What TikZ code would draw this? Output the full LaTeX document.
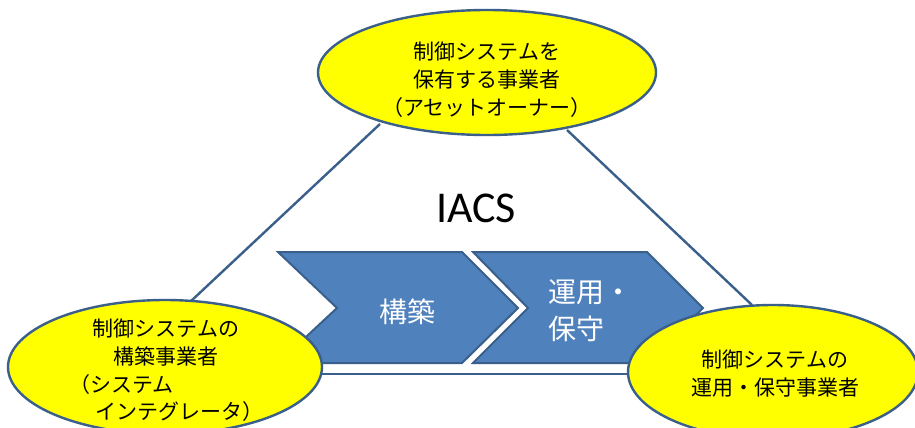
\documentclass[tikz,border=0pt]{standalone}
\usepackage{fontspec}
\setmainfont{Carlito}
\newfontfamily\jp{Noto Sans CJK JP}
\usetikzlibrary{shapes.geometric}
\definecolor{edgeblue}{HTML}{3A5F8B}
\definecolor{chevfill}{HTML}{4F81BD}
\definecolor{ellfill}{HTML}{FFFF00}
\tikzset{
  ell/.style={ellipse, draw=edgeblue, line width=2.4pt, fill=ellfill, inner sep=0pt},
  link/.style={draw=edgeblue, line width=2.4pt},
  chevron/.style={draw=edgeblue, line width=2pt, fill=chevfill, line join=miter},
  jtext/.style={inner sep=0pt, font=\jp\fontsize{21}{28}\selectfont, text=black},
  ctext/.style={inner sep=0pt, font=\jp\fontsize{28}{37}\selectfont, text=white},
}
\begin{document}
\begin{tikzpicture}[x=1pt,y=-1pt]
\useasboundingbox (0,0) rectangle (915,428);
\fill[white] (0,0) rectangle (915,428);
% connector end points (hidden under the ellipses)
\coordinate (t1) at (380,124);
\coordinate (l1) at (190,302);
\coordinate (t2) at (567,130);
\coordinate (r1) at (752,305);
\coordinate (b1) at (300,374);
\coordinate (b2) at (650,374);
\draw[link] (t1) -- (l1);
\draw[link] (t2) -- (r1);
\draw[link] (b1) -- (b2);
% chevrons
\draw[chevron] (278,252) -- (462,252) -- (518,308) -- (462,363) -- (278,363) -- (337,308) -- cycle;
\draw[chevron] (473,252) -- (647,252) -- (703,308) -- (647,363) -- (473,363) -- (528,308) -- cycle;
\node[ctext] (build) at (407,312) {構築};
\node[ctext, anchor=west, align=left] (ops) at (548,311) {運用・\\保守};
% title
\node[inner sep=0pt, font=\fontsize{44}{50}\selectfont] (iacs) at (476,208) {IACS};
% ellipses
\node[ell, minimum width=338pt, minimum height=125pt] (top) at (487,72.5) {};
\node[ell, minimum width=314pt, minimum height=134pt] (left) at (165,367) {};
\node[ell, minimum width=290pt, minimum height=134pt] (right) at (773,372) {};
\node[jtext, align=center] (toptext) at (487,80) {制御システムを\\保有する事業者\\（アセットオーナー）};
\node[jtext, align=center] (lefttext) at (166,342.5) {制御システムの\\構築事業者};
\node[jtext, anchor=west] (lefttext2) at (69,385) {（システム};
\node[jtext, anchor=west] (lefttext3) at (95,412) {インテグレータ）};
\node[jtext, align=center] (righttext) at (775,373.5) {制御システムの\\運用・保守事業者};
\end{tikzpicture}
\end{document}
